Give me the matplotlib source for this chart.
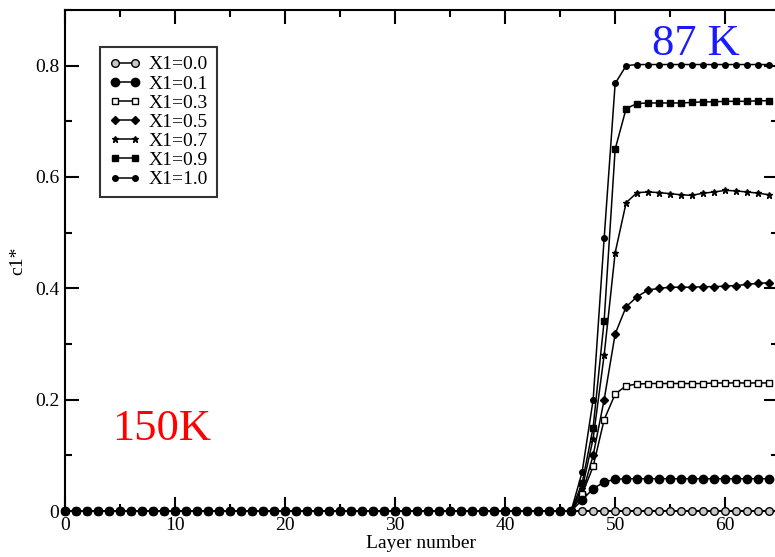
import numpy as np
import matplotlib
matplotlib.use("Agg")
from matplotlib import pyplot as plt
from matplotlib.ticker import MultipleLocator, FuncFormatter

plt.rcParams['font.family'] = ['Liberation Serif', 'DejaVu Serif']

# layer index 0..64, everything sits at zero until layer 46
layers = list(range(65))
flat = [0.0] * 47

tail_00 = [0.0] * 18
tail_01 = [0.02, 0.04, 0.052, 0.057, 0.058, 0.058, 0.058, 0.058, 0.058, 0.058,
           0.058, 0.058, 0.058, 0.058, 0.058, 0.058, 0.058, 0.058]
tail_03 = [0.03, 0.08, 0.164, 0.21, 0.225, 0.228, 0.229, 0.229, 0.229, 0.229,
           0.229, 0.229, 0.23, 0.23, 0.23, 0.23, 0.23, 0.23]
tail_05 = [0.03, 0.10, 0.20, 0.318, 0.367, 0.385, 0.397, 0.400, 0.402, 0.402,
           0.402, 0.403, 0.403, 0.404, 0.405, 0.407, 0.409, 0.41]
tail_07 = [0.04, 0.13, 0.28, 0.464, 0.554, 0.572, 0.573, 0.572, 0.570, 0.568,
           0.567, 0.571, 0.573, 0.576, 0.575, 0.573, 0.571, 0.568]
tail_09 = [0.05, 0.15, 0.342, 0.65, 0.723, 0.732, 0.733, 0.733, 0.733, 0.733,
           0.734, 0.735, 0.735, 0.736, 0.736, 0.736, 0.737, 0.737]
tail_10 = [0.07, 0.20, 0.49, 0.768, 0.80, 0.802, 0.802, 0.802, 0.802, 0.802,
           0.802, 0.802, 0.802, 0.802, 0.802, 0.802, 0.802, 0.802]

labels = ["X1=0.0", "X1=0.1", "X1=0.3", "X1=0.5", "X1=0.7", "X1=0.9", "X1=1.0"]
series = [flat + tail_00, flat + tail_01, flat + tail_03, flat + tail_05,
          flat + tail_07, flat + tail_09, flat + tail_10]

styles = [
    dict(marker='o', ms=5.5, mfc='#c8c8c8', zorder=3),
    dict(marker='o', ms=6.0, mfc='black', zorder=4),  # on top: fills the zero row
    dict(marker='s', ms=4.6, mfc='white', zorder=2.5),
    dict(marker='D', ms=4.3, mfc='black', zorder=2.4),
    dict(marker='*', ms=4.5, mfc='black', zorder=2.3),
    dict(marker='s', ms=5.0, mfc='black', zorder=2.2),
    dict(marker='o', ms=4.0, mfc='black', zorder=2.1),
]

W, H = 775, 557
fig = plt.figure(figsize=(W / 100, H / 100), dpi=100)
ax = fig.add_axes([65 / W, 46 / H, 713 / W, 501 / H])

for lab, ys, st in zip(labels, series, styles):
    ax.plot(layers, ys, color='black', lw=1.1, mec='black', mew=1.0,
            label=lab, clip_on=False, **st)

ax.set_xlim(0, 64.8)
ax.set_ylim(0, 0.9)
ax.xaxis.set_major_locator(MultipleLocator(10))
ax.xaxis.set_minor_locator(MultipleLocator(5))
ax.yaxis.set_major_locator(MultipleLocator(0.2))
ax.yaxis.set_minor_locator(MultipleLocator(0.1))
ax.yaxis.set_major_formatter(FuncFormatter(lambda v, p: "0" if abs(v) < 1e-9 else f"{v:.1f}"))
ax.tick_params(which='both', direction='in', top=True, right=True, width=1.5,
               labelsize=14, pad=4)
ax.tick_params(which='major', length=10)
ax.tick_params(which='minor', length=5)
for sp in ax.spines.values():
    sp.set_linewidth(1.5)

ax.set_xlabel("Layer number", fontsize=14, labelpad=1)
ax.set_ylabel("c1*", fontsize=14, labelpad=6)

leg = ax.legend(loc='upper left', bbox_to_anchor=(0.049, 0.926), fontsize=14,
                frameon=True, fancybox=False, handlelength=1.65,
                labelspacing=0.08, borderpad=0.45, handletextpad=0.4,
                borderaxespad=0, numpoints=2)
leg.get_frame().set_edgecolor('black')
leg.get_frame().set_linewidth(1.5)

fig.text(652 / W, 1 - 55 / H, "87 K", color='#1a1aff', fontsize=32,
         ha='left', va='baseline')
fig.text(112 / W, 1 - 440 / H, "150K", color='#ff0000', fontsize=32,
         ha='left', va='baseline')

fig.savefig("out.png", dpi=100)
